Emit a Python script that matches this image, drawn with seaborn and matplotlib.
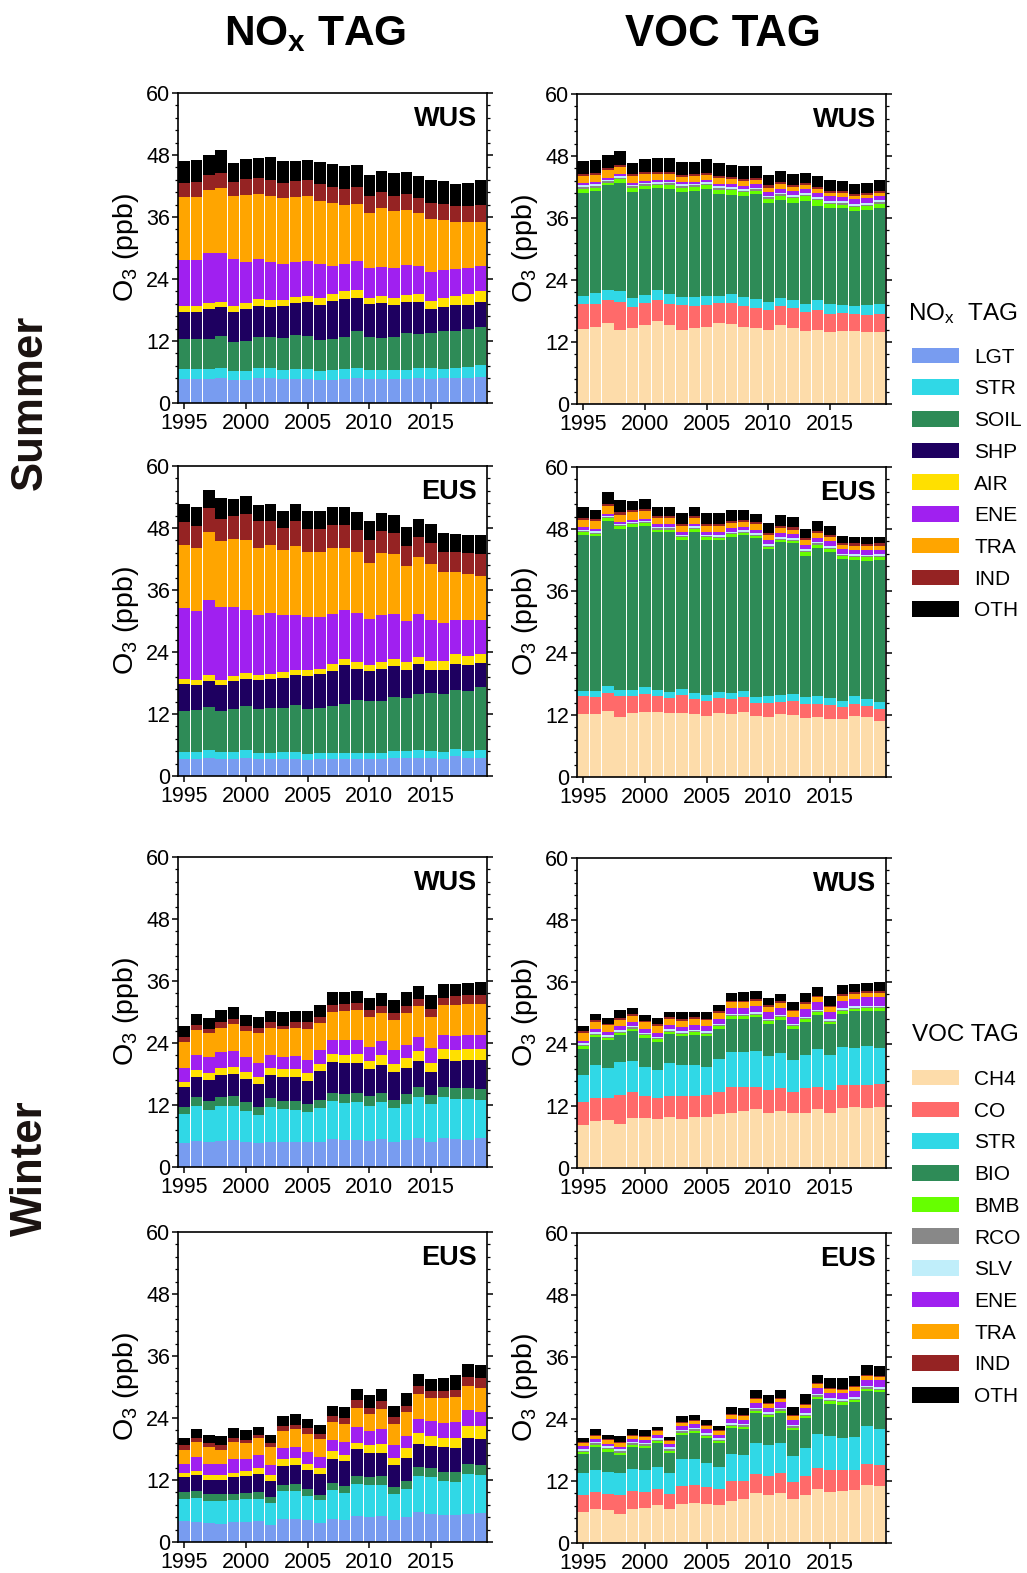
import numpy as np
import pandas as pd
import matplotlib
matplotlib.use('Agg')
import matplotlib.pyplot as plt
import seaborn as sns
from matplotlib.patches import Patch
from matplotlib.ticker import MultipleLocator

sns.set_style('ticks')
plt.rcParams['font.family'] = ['Liberation Sans', 'DejaVu Sans']
plt.rcParams['mathtext.default'] = 'regular'
for key in ['text.color', 'axes.labelcolor', 'xtick.color', 'ytick.color']:
    plt.rcParams[key] = 'black'

years = list(range(1995, 2020))

nox_tags = ['LGT', 'STR', 'SOIL', 'SHP', 'AIR', 'ENE', 'TRA', 'IND', 'OTH']
nox_colors = ['#789cf0', '#30d8e6', '#2e8b57', '#1e0060', '#ffe000',
              '#a020f0', '#ffa500', '#952323', '#000000']
voc_tags = ['CH4', 'CO', 'STR', 'BIO', 'BMB', 'RCO', 'SLV', 'ENE', 'TRA', 'IND', 'OTH']
voc_colors = ['#fddcaa', '#ff6a6a', '#30d8e6', '#2e8b57', '#66ff00', '#888888',
              '#c0eefa', '#a020f0', '#ffa500', '#952323', '#000000']

# stacked tops (ppb), bottom layer first, last row = total O3
summer_wus_nox = [
    [4.7, 4.7, 4.7, 4.8, 4.5, 4.5, 4.8, 4.8, 4.6, 4.6, 4.6, 4.5, 4.5, 4.6, 4.8, 4.7, 4.7, 4.6, 4.6, 4.8, 4.7, 4.9, 4.9, 4.9, 5.0],
    [6.6, 6.6, 6.6, 6.8, 6.1, 6.1, 6.8, 6.7, 6.4, 6.5, 6.5, 6.2, 6.3, 6.5, 6.7, 6.4, 6.4, 6.3, 6.4, 6.8, 6.7, 6.6, 6.7, 6.9, 7.3],
    [12.3, 12.4, 12.4, 13.0, 11.9, 12.0, 12.8, 12.7, 12.5, 13.1, 12.9, 12.1, 12.4, 12.7, 13.9, 12.8, 12.5, 12.8, 13.5, 13.4, 13.5, 13.9, 14.0, 14.3, 14.8],
    [17.7, 17.7, 18.1, 18.5, 17.7, 18.1, 18.8, 18.6, 18.8, 19.3, 19.5, 19.0, 19.8, 20.1, 20.4, 19.2, 19.3, 18.9, 19.5, 19.5, 18.1, 18.5, 18.9, 19.0, 19.5],
    [18.7, 18.7, 19.3, 19.6, 18.7, 19.3, 20.1, 19.9, 20.0, 20.6, 20.8, 20.4, 21.1, 21.6, 21.9, 20.4, 20.7, 20.3, 20.9, 21.1, 19.7, 20.3, 20.7, 21.1, 21.7],
    [27.7, 27.7, 29.1, 29.1, 27.8, 27.3, 27.8, 27.3, 27.0, 27.2, 27.5, 26.9, 26.6, 26.9, 27.5, 26.1, 26.3, 26.2, 26.7, 26.6, 25.3, 25.7, 25.9, 26.1, 26.5],
    [39.9, 39.9, 41.3, 41.7, 40.0, 40.3, 40.4, 40.1, 39.7, 39.9, 40.0, 39.1, 38.7, 38.3, 38.6, 36.8, 37.8, 37.2, 37.4, 36.8, 35.7, 35.4, 35.0, 35.0, 35.1],
    [42.6, 42.7, 44.1, 44.5, 42.7, 43.3, 43.6, 43.2, 42.6, 43.0, 43.2, 42.3, 41.9, 41.5, 41.8, 40.1, 40.8, 40.1, 40.4, 39.7, 38.7, 38.5, 38.1, 38.1, 38.3],
    [46.9, 47.1, 48.0, 48.9, 46.5, 47.3, 47.5, 47.6, 46.8, 46.8, 47.1, 46.6, 46.2, 45.9, 46.0, 44.1, 45.0, 44.5, 44.8, 44.0, 43.2, 43.0, 42.4, 42.6, 43.2],
]

summer_wus_voc = [
    [14.6, 14.9, 15.6, 14.4, 14.8, 15.3, 16.1, 15.2, 14.4, 14.8, 15.0, 15.6, 15.5, 14.9, 14.8, 14.4, 15.2, 14.7, 14.2, 14.4, 13.9, 14.2, 14.1, 14.0, 14.0],
    [19.3, 19.4, 20.2, 19.8, 18.8, 19.6, 20.2, 19.4, 19.2, 19.0, 19.1, 19.5, 19.5, 19.0, 18.6, 18.1, 18.9, 18.5, 17.8, 18.1, 17.5, 17.7, 17.4, 17.3, 17.4],
    [21.0, 21.4, 22.1, 21.8, 20.5, 21.1, 22.0, 21.2, 20.8, 20.8, 21.0, 21.0, 21.2, 20.8, 20.4, 19.8, 20.6, 20.1, 19.4, 20.1, 19.4, 19.2, 19.0, 19.2, 19.4],
    [40.9, 41.2, 42.3, 42.8, 41.0, 41.7, 41.9, 41.7, 41.0, 41.2, 41.7, 40.6, 40.5, 40.2, 40.6, 39.0, 39.5, 39.0, 39.3, 38.3, 37.9, 37.9, 37.4, 37.6, 38.0],
    [41.7, 41.9, 42.8, 43.5, 41.8, 42.2, 42.3, 42.4, 41.9, 42.0, 42.3, 41.5, 41.4, 41.0, 41.3, 39.7, 40.3, 39.8, 40.2, 39.4, 38.7, 38.6, 38.1, 38.3, 38.8],
    [42.0, 42.2, 43.1, 43.8, 42.1, 42.5, 42.6, 42.7, 42.2, 42.3, 42.6, 41.8, 41.7, 41.3, 41.6, 40.0, 40.6, 40.1, 40.5, 39.7, 39.0, 38.9, 38.4, 38.6, 39.1],
    [42.3, 42.5, 43.4, 44.1, 42.4, 42.8, 42.9, 43.0, 42.5, 42.6, 42.9, 42.1, 42.0, 41.6, 41.9, 40.3, 40.9, 40.4, 40.8, 40.0, 39.3, 39.2, 38.7, 38.9, 39.4],
    [42.7, 42.9, 43.8, 44.5, 42.8, 43.2, 43.3, 43.4, 42.9, 43.0, 43.3, 42.6, 42.5, 42.1, 42.5, 41.0, 41.7, 41.2, 41.6, 40.9, 40.2, 40.1, 39.6, 39.8, 40.3],
    [44.1, 44.3, 45.2, 45.8, 44.2, 44.5, 44.5, 44.6, 44.0, 44.1, 44.4, 43.7, 43.5, 43.1, 43.4, 41.9, 42.5, 42.0, 42.4, 41.6, 40.9, 40.8, 40.2, 40.4, 40.9],
    [44.5, 44.7, 45.6, 46.2, 44.6, 44.9, 44.9, 45.0, 44.4, 44.5, 44.8, 44.1, 43.9, 43.5, 43.8, 42.3, 42.9, 42.4, 42.8, 42.0, 41.3, 41.2, 40.6, 40.8, 41.3],
    [47.1, 47.3, 48.2, 49.0, 46.6, 47.5, 47.6, 47.7, 46.9, 46.9, 47.4, 46.6, 46.3, 46.0, 46.1, 44.3, 45.1, 44.6, 44.8, 44.1, 43.4, 43.1, 42.6, 42.8, 43.4],
]

summer_eus_nox = [
    [3.3, 3.3, 3.5, 3.2, 3.2, 3.5, 3.2, 3.3, 3.3, 3.3, 3.0, 3.2, 3.2, 3.2, 3.2, 3.3, 3.2, 3.5, 3.5, 3.5, 3.4, 3.3, 3.8, 3.5, 3.5],
    [4.6, 4.6, 5.0, 4.6, 4.6, 5.1, 4.5, 4.5, 4.7, 4.7, 4.2, 4.4, 4.5, 4.5, 4.4, 4.5, 4.5, 4.9, 4.9, 5.0, 4.9, 4.6, 5.3, 4.8, 5.0],
    [12.5, 12.7, 13.4, 12.5, 12.9, 13.5, 13.0, 13.1, 13.2, 13.8, 12.9, 13.1, 13.6, 14.0, 14.7, 14.5, 14.6, 15.3, 15.1, 15.9, 16.1, 15.8, 16.6, 16.4, 17.2],
    [17.8, 17.6, 18.4, 17.6, 18.3, 18.8, 18.5, 18.7, 19.0, 19.5, 19.4, 19.7, 20.4, 21.4, 20.8, 20.3, 20.8, 21.2, 20.6, 21.7, 20.6, 20.6, 21.7, 21.4, 21.9],
    [18.7, 18.6, 19.5, 18.6, 19.4, 20.0, 19.5, 19.7, 20.1, 20.6, 20.5, 20.8, 21.6, 22.6, 22.1, 21.4, 22.1, 22.6, 22.1, 23.0, 22.2, 22.2, 23.7, 23.2, 23.7],
    [32.5, 31.9, 34.1, 32.8, 32.8, 32.2, 31.2, 31.5, 31.2, 31.1, 30.7, 30.7, 31.3, 32.2, 31.6, 30.4, 31.1, 31.3, 30.0, 31.3, 30.2, 29.6, 30.2, 30.2, 30.2],
    [44.8, 44.2, 47.3, 45.5, 45.9, 45.7, 44.1, 44.8, 43.8, 44.6, 43.3, 43.3, 44.1, 44.2, 43.3, 41.2, 43.2, 43.0, 40.7, 42.3, 41.0, 39.4, 39.4, 39.0, 38.8],
    [49.1, 48.4, 51.8, 49.8, 50.4, 50.8, 49.3, 49.3, 48.0, 49.3, 47.8, 47.9, 48.6, 48.6, 47.7, 45.7, 47.4, 47.1, 44.6, 46.2, 45.0, 43.4, 43.3, 43.2, 43.0],
    [52.7, 52.0, 55.4, 53.8, 53.6, 54.1, 52.5, 52.7, 51.3, 52.7, 51.3, 51.3, 52.0, 52.0, 51.1, 49.4, 50.9, 50.6, 48.2, 49.7, 48.7, 47.0, 46.8, 46.6, 46.6],
]

summer_eus_voc = [
    [12.1, 12.1, 12.8, 11.7, 12.4, 12.6, 12.6, 12.3, 12.4, 12.1, 11.9, 12.3, 12.2, 12.5, 11.9, 11.7, 12.1, 12.0, 11.5, 11.6, 11.3, 11.2, 11.9, 11.6, 10.8],
    [15.6, 15.5, 16.2, 15.6, 15.6, 16.0, 15.6, 15.3, 15.8, 15.1, 14.8, 15.3, 15.1, 15.4, 14.4, 14.3, 14.6, 14.7, 14.2, 14.2, 13.9, 13.6, 14.2, 13.8, 13.1],
    [16.7, 16.7, 17.6, 16.8, 16.8, 17.4, 16.8, 16.5, 17.0, 16.3, 15.8, 16.5, 16.3, 16.6, 15.4, 15.6, 15.8, 16.0, 15.4, 15.6, 15.3, 14.8, 15.6, 15.1, 14.6],
    [46.9, 46.6, 49.6, 48.0, 48.4, 48.6, 47.4, 47.4, 45.9, 47.5, 45.9, 45.8, 46.5, 46.8, 46.2, 44.1, 45.4, 45.2, 42.8, 44.4, 43.6, 42.2, 42.0, 41.9, 42.0],
    [47.4, 47.1, 50.1, 48.5, 48.9, 49.1, 47.9, 47.9, 46.4, 48.0, 46.4, 46.3, 47.0, 47.3, 46.7, 44.6, 45.9, 45.7, 43.6, 45.0, 44.2, 42.7, 42.6, 42.5, 42.6],
    [47.6, 47.3, 50.3, 48.7, 49.1, 49.3, 48.1, 48.1, 46.6, 48.2, 46.6, 46.5, 47.2, 47.5, 46.9, 44.8, 46.1, 45.9, 43.8, 45.2, 44.4, 42.9, 42.8, 42.7, 42.8],
    [47.9, 47.6, 50.6, 49.0, 49.4, 49.6, 48.4, 48.4, 46.9, 48.5, 46.9, 46.8, 47.5, 47.8, 47.2, 45.1, 46.4, 46.2, 44.1, 45.5, 44.7, 43.2, 43.1, 43.0, 43.1],
    [48.3, 48.0, 51.0, 49.4, 49.8, 50.0, 48.9, 48.9, 47.4, 49.0, 47.5, 47.4, 48.1, 48.4, 47.9, 45.9, 47.2, 47.0, 44.9, 46.3, 45.6, 44.1, 44.0, 43.9, 44.0],
    [49.8, 49.5, 52.5, 50.8, 51.2, 51.4, 50.2, 50.2, 48.6, 50.2, 48.6, 48.5, 49.2, 49.4, 48.9, 46.9, 48.1, 47.9, 45.8, 47.2, 46.4, 44.9, 44.8, 44.7, 44.8],
    [50.2, 49.9, 52.9, 51.2, 51.6, 51.8, 50.6, 50.6, 49.0, 50.6, 49.0, 48.9, 49.6, 49.8, 49.3, 47.3, 48.5, 48.3, 46.2, 47.6, 46.8, 45.3, 45.2, 45.1, 45.2],
    [52.3, 51.7, 55.1, 53.6, 53.5, 53.9, 52.3, 52.3, 51.1, 52.3, 51.1, 51.1, 51.7, 51.7, 50.9, 49.1, 50.7, 50.4, 48.0, 49.6, 48.5, 46.7, 46.5, 46.5, 46.5],
]

winter_wus_nox = [
    [4.7, 5.1, 4.9, 5.1, 5.2, 4.9, 4.6, 4.9, 4.9, 4.9, 4.8, 4.9, 5.5, 5.3, 5.3, 5.0, 5.4, 4.9, 5.2, 5.6, 4.9, 5.6, 5.5, 5.2, 5.6],
    [10.3, 11.9, 11.1, 11.9, 11.9, 10.9, 10.1, 11.6, 11.3, 11.1, 10.6, 11.5, 12.7, 12.3, 12.5, 11.8, 12.6, 11.4, 12.2, 13.5, 12.1, 13.5, 13.2, 13.2, 13.0],
    [11.7, 13.5, 12.7, 13.6, 13.7, 12.6, 11.7, 13.3, 12.8, 12.8, 12.2, 13.0, 14.4, 14.1, 14.3, 13.7, 14.4, 13.0, 14.1, 15.5, 13.9, 15.5, 15.3, 15.3, 15.1],
    [15.4, 17.5, 16.9, 17.8, 18.0, 17.1, 16.0, 17.8, 17.5, 17.5, 16.7, 18.6, 20.4, 20.2, 20.2, 18.9, 19.8, 18.3, 19.2, 20.5, 18.3, 20.9, 20.5, 20.7, 20.7],
    [16.5, 18.7, 18.1, 19.2, 19.4, 18.4, 17.4, 19.2, 18.9, 19.0, 18.2, 19.9, 21.8, 21.6, 21.8, 20.5, 21.6, 20.0, 21.1, 22.4, 20.2, 22.8, 22.6, 22.9, 22.8],
    [19.1, 21.6, 21.2, 22.2, 22.5, 21.2, 20.2, 21.7, 21.3, 21.5, 20.7, 22.6, 24.5, 24.5, 24.6, 23.2, 24.3, 22.7, 23.7, 25.2, 23.0, 25.5, 25.4, 25.5, 25.5],
    [24.1, 26.5, 25.9, 27.0, 27.7, 26.4, 25.9, 27.0, 26.7, 27.0, 26.7, 27.9, 30.0, 30.1, 30.4, 29.0, 29.8, 28.5, 29.8, 31.1, 29.1, 31.3, 31.3, 31.5, 31.6],
    [25.2, 27.5, 26.7, 28.0, 28.7, 27.3, 26.9, 28.1, 27.3, 28.0, 28.0, 29.0, 31.3, 31.6, 31.8, 30.3, 31.1, 29.8, 31.1, 32.5, 30.5, 32.8, 33.1, 33.2, 33.2],
    [27.3, 29.7, 28.9, 30.4, 30.9, 29.5, 29.0, 30.1, 30.0, 30.1, 30.2, 31.4, 33.8, 33.9, 34.1, 32.8, 33.6, 32.3, 33.8, 35.0, 33.2, 35.4, 35.5, 35.7, 35.9],
]

winter_wus_voc = [
    [8.3, 9.1, 9.3, 8.5, 9.6, 9.6, 9.5, 9.8, 9.4, 9.8, 9.9, 10.4, 10.6, 11.1, 11.4, 10.7, 11.0, 10.6, 10.7, 11.5, 10.6, 11.6, 11.8, 11.7, 11.9],
    [12.7, 13.6, 13.6, 14.2, 14.7, 14.0, 13.6, 14.0, 13.9, 13.9, 14.1, 14.8, 15.7, 15.7, 15.7, 15.1, 15.5, 14.8, 15.4, 15.7, 15.1, 16.0, 16.1, 16.0, 16.2],
    [18.0, 19.9, 19.3, 20.5, 20.8, 19.6, 19.0, 20.3, 19.9, 19.9, 19.6, 21.1, 22.5, 22.5, 22.6, 21.6, 22.3, 21.0, 21.9, 23.1, 21.8, 23.4, 23.3, 23.7, 23.3],
    [23.1, 25.3, 24.7, 25.7, 26.5, 25.2, 24.4, 25.9, 25.5, 25.8, 25.5, 26.9, 28.9, 28.9, 29.2, 27.9, 28.7, 26.9, 28.3, 29.6, 27.8, 29.9, 30.3, 30.4, 30.4],
    [23.6, 25.8, 25.2, 26.2, 27.0, 25.7, 24.9, 26.4, 26.0, 26.3, 26.0, 27.4, 29.4, 29.4, 29.7, 28.4, 29.2, 27.4, 28.8, 30.1, 28.3, 30.4, 30.8, 30.9, 30.9],
    [23.8, 26.0, 25.4, 26.4, 27.2, 25.9, 25.1, 26.6, 26.2, 26.5, 26.2, 27.6, 29.6, 29.6, 29.9, 28.6, 29.4, 27.6, 29.0, 30.3, 28.5, 30.6, 31.0, 31.1, 31.1],
    [24.1, 26.3, 25.7, 26.7, 27.5, 26.2, 25.4, 26.9, 26.5, 26.8, 26.5, 27.9, 29.9, 29.9, 30.2, 28.9, 29.7, 27.9, 29.3, 30.6, 28.8, 30.9, 31.3, 31.4, 31.4],
    [24.6, 26.9, 26.3, 27.4, 28.2, 26.9, 26.2, 27.7, 27.3, 27.7, 27.4, 28.9, 31.0, 31.0, 31.4, 30.2, 31.0, 29.3, 30.8, 32.1, 30.2, 32.4, 32.8, 33.0, 33.0],
    [26.2, 28.3, 27.6, 28.7, 29.5, 28.2, 27.5, 28.9, 28.5, 28.9, 28.6, 30.0, 32.1, 32.1, 32.4, 31.2, 32.0, 30.3, 31.8, 33.0, 31.1, 33.3, 33.7, 33.9, 33.9],
    [26.5, 28.6, 27.9, 29.0, 29.8, 28.5, 27.8, 29.2, 28.8, 29.2, 28.9, 30.3, 32.4, 32.4, 32.7, 31.5, 32.3, 30.6, 32.1, 33.3, 31.4, 33.6, 34.0, 34.2, 34.2],
    [27.4, 29.8, 29.0, 30.5, 31.0, 29.7, 29.1, 30.2, 30.1, 30.2, 30.2, 31.5, 33.8, 34.0, 34.2, 32.9, 33.7, 32.1, 33.8, 35.1, 33.3, 35.4, 35.6, 35.8, 36.0],
]

winter_eus_nox = [
    [4.0, 3.9, 3.7, 3.5, 3.9, 3.8, 4.1, 3.3, 4.4, 4.4, 4.2, 3.7, 4.4, 4.3, 5.1, 4.8, 5.1, 4.2, 4.8, 5.9, 5.5, 5.3, 5.3, 5.5, 5.7],
    [8.4, 8.6, 8.0, 8.0, 8.2, 8.3, 8.4, 7.6, 9.8, 9.8, 9.0, 8.1, 10.0, 9.5, 11.3, 11.0, 11.1, 9.3, 10.2, 12.7, 12.5, 11.8, 11.7, 13.2, 13.0],
    [9.6, 9.8, 9.2, 9.2, 9.3, 9.5, 9.7, 8.7, 11.1, 11.2, 10.2, 9.1, 11.4, 10.9, 12.8, 12.6, 12.7, 10.6, 11.8, 14.5, 14.3, 13.5, 13.5, 15.1, 15.0],
    [12.5, 12.9, 12.0, 12.0, 12.5, 12.7, 13.2, 11.9, 14.8, 15.0, 14.0, 13.1, 16.0, 15.6, 18.0, 17.3, 17.3, 14.9, 16.2, 18.9, 18.6, 18.3, 18.2, 20.2, 20.0],
    [13.3, 13.7, 12.9, 12.9, 13.4, 13.7, 14.4, 12.9, 16.0, 16.2, 15.1, 14.4, 17.6, 16.9, 19.2, 18.8, 19.0, 16.3, 18.1, 21.1, 20.6, 20.2, 20.1, 22.5, 22.5],
    [15.1, 16.4, 15.1, 15.1, 16.0, 16.0, 16.8, 14.9, 18.2, 18.4, 17.4, 16.4, 19.8, 19.3, 22.2, 21.4, 21.8, 18.7, 20.6, 23.8, 23.5, 23.0, 23.3, 25.5, 25.2],
    [17.8, 19.4, 18.3, 17.9, 19.4, 19.1, 20.2, 18.3, 21.5, 21.8, 20.9, 20.0, 23.3, 22.9, 25.9, 24.8, 25.8, 22.9, 25.2, 28.7, 27.9, 27.8, 28.0, 30.2, 29.9],
    [18.7, 20.2, 19.1, 18.7, 20.2, 19.8, 20.8, 19.1, 22.5, 22.6, 22.0, 20.9, 24.3, 24.0, 27.5, 26.0, 27.3, 24.1, 26.4, 30.1, 29.3, 29.2, 29.4, 31.9, 31.7],
    [20.2, 21.9, 20.7, 20.5, 22.0, 21.6, 22.3, 20.7, 24.4, 24.7, 23.8, 22.7, 26.3, 26.2, 29.6, 28.5, 29.6, 26.3, 28.8, 32.5, 31.6, 31.7, 32.3, 34.4, 34.2],
]

winter_eus_voc = [
    [6.0, 6.6, 6.4, 5.6, 6.6, 6.8, 7.4, 6.6, 7.6, 7.8, 7.6, 7.3, 8.2, 8.5, 9.6, 9.3, 9.6, 8.5, 9.2, 10.5, 9.9, 10.1, 10.3, 11.2, 11.0],
    [9.2, 9.9, 9.5, 9.3, 10.1, 9.8, 10.5, 9.5, 11.1, 11.2, 10.9, 10.5, 12.0, 12.0, 13.4, 12.9, 13.6, 11.9, 13.0, 14.6, 14.1, 14.1, 14.2, 15.3, 15.1],
    [13.5, 14.2, 13.7, 13.5, 14.3, 14.1, 14.7, 13.6, 16.2, 16.3, 15.5, 14.8, 17.3, 17.0, 19.3, 18.9, 19.3, 16.8, 18.4, 21.1, 20.7, 20.3, 20.5, 22.6, 22.1],
    [17.2, 18.6, 17.7, 17.1, 18.6, 18.4, 19.3, 17.5, 20.9, 21.3, 20.3, 19.3, 22.2, 22.1, 25.2, 24.3, 25.2, 21.9, 24.1, 27.9, 27.0, 26.8, 27.2, 29.4, 29.2],
    [17.6, 19.0, 18.1, 17.5, 19.0, 18.8, 19.7, 17.9, 21.3, 21.7, 20.7, 19.7, 22.6, 22.5, 25.6, 24.7, 25.6, 22.3, 24.5, 28.3, 27.4, 27.2, 27.6, 29.8, 29.6],
    [17.9, 19.3, 18.4, 17.8, 19.3, 19.1, 20.0, 18.2, 21.6, 22.0, 21.0, 20.0, 22.9, 22.8, 25.9, 25.0, 25.9, 22.6, 24.8, 28.6, 27.7, 27.5, 27.9, 30.1, 29.9],
    [18.2, 19.6, 18.7, 18.1, 19.6, 19.4, 20.3, 18.5, 21.9, 22.3, 21.3, 20.3, 23.2, 23.1, 26.2, 25.3, 26.2, 22.9, 25.1, 28.9, 28.0, 27.8, 28.2, 30.4, 30.2],
    [18.7, 20.1, 19.2, 18.6, 20.1, 19.9, 20.9, 19.1, 22.6, 23.0, 22.0, 21.0, 24.0, 23.9, 27.1, 26.2, 27.2, 23.9, 26.1, 30.0, 29.1, 29.0, 29.4, 31.6, 31.5],
    [19.4, 20.8, 19.9, 19.3, 20.8, 20.6, 21.6, 19.8, 23.3, 23.7, 22.7, 21.7, 24.7, 24.6, 27.8, 26.9, 27.9, 24.6, 26.8, 30.7, 29.8, 29.7, 30.1, 32.3, 32.2],
    [19.6, 21.0, 20.1, 19.5, 21.0, 20.8, 21.8, 20.0, 23.5, 23.9, 22.9, 21.9, 24.9, 24.8, 28.0, 27.1, 28.1, 24.8, 27.0, 30.9, 30.0, 29.9, 30.3, 32.5, 32.4],
    [20.3, 22.0, 20.9, 20.7, 22.1, 21.8, 22.4, 20.5, 24.5, 24.8, 23.9, 22.7, 26.3, 26.2, 29.7, 28.6, 29.7, 26.3, 28.9, 32.6, 31.9, 31.9, 32.3, 34.5, 34.3],
]

panels = [
    (summer_wus_nox, nox_tags, nox_colors, 'WUS'),
    (summer_wus_voc, voc_tags, voc_colors, 'WUS'),
    (summer_eus_nox, nox_tags, nox_colors, 'EUS'),
    (summer_eus_voc, voc_tags, voc_colors, 'EUS'),
    (winter_wus_nox, nox_tags, nox_colors, 'WUS'),
    (winter_wus_voc, voc_tags, voc_colors, 'WUS'),
    (winter_eus_nox, nox_tags, nox_colors, 'EUS'),
    (winter_eus_voc, voc_tags, voc_colors, 'EUS'),
]

W, H = 1027, 1573
fig = plt.figure(figsize=(W / 100, H / 100), dpi=100)

# panel boxes in pixels: (left, top)
lefts = [178, 577]
tops_px = [93, 466, 857, 1232]
pw, ph = 309, 310

for i, (tops, tags, colors, region) in enumerate(panels):
    r, c = divmod(i, 2)
    x0, y0 = lefts[c], tops_px[r] + c * 1
    ax = fig.add_axes([x0 / W, 1 - (y0 + ph) / H, pw / W, ph / H])

    # stacked tops -> layer contributions
    tops = np.array(tops)
    layers = np.diff(np.vstack([np.zeros(len(years)), tops]), axis=0)
    df = pd.DataFrame({
        'year': np.tile(years, len(tags)),
        'tag': np.repeat(tags, len(years)),
        'o3': layers.ravel(),
    })
    # seaborn stacks the first hue level on top, so feed the order reversed
    sns.histplot(data=df, x='year', weights='o3', hue='tag', hue_order=tags[::-1],
                 multiple='stack', discrete=True, shrink=0.92,
                 palette=dict(zip(tags, colors)), alpha=1, linewidth=0,
                 legend=False, ax=ax)

    ax.set_xlim(1994.5, 2019.55)
    ax.set_ylim(0, 60)
    ax.set_xticks([1995, 2000, 2005, 2010, 2015])
    ax.yaxis.set_major_locator(MultipleLocator(12))
    ax.yaxis.set_minor_locator(MultipleLocator(2.4))
    ax.tick_params(axis='both', which='major', labelsize=15.5, length=4.5,
                   width=1.1, direction='out', pad=1)
    ax.tick_params(axis='x', which='major', pad=3)
    ax.tick_params(axis='y', which='both', right=True)
    ax.tick_params(axis='y', which='minor', length=2.3, width=0.9)
    ax.set_xlabel('')
    ax.set_ylabel('O$_3$ (ppb)', fontsize=20.5, labelpad=4)
    for s in ax.spines.values():
        s.set_linewidth(1.2)
        s.set_color('black')
    ax.text(0.968, 0.915, region, transform=ax.transAxes, ha='right',
            va='center', fontsize=19.5, fontweight='bold')

# column headers and season labels
fig.text(315 / W, 1 - 34 / H, 'NO$_x$ TAG', ha='center', va='center',
         fontsize=30.5, fontweight='bold')
fig.text(723 / W, 1 - 34 / H, 'VOC TAG', ha='center', va='center',
         fontsize=31.5, fontweight='bold')
fig.text(30 / W, 1 - 402 / H, 'Summer', ha='center', va='center',
         rotation=90, fontsize=31.5, fontweight='bold', color='#1a1210')
fig.text(30 / W, 1 - 1168 / H, 'Winter', ha='center', va='center',
         rotation=90, fontsize=31.5, fontweight='bold', color='#1a1210')

# legends (titles drawn as separate texts)
legend_kw = dict(frameon=False, loc='center left', fontsize=15,
                 handlelength=2.25, handleheight=0.77, handletextpad=0.72,
                 labelspacing=0.61, borderaxespad=0, borderpad=0.4)
nox_handles = [Patch(facecolor=col, edgecolor='none') for col in nox_colors]
voc_handles = [Patch(facecolor=col, edgecolor='none') for col in voc_colors]
fig.legend(nox_handles, nox_tags, bbox_to_anchor=(904 / W, 1 - 484 / H), **legend_kw)
fig.legend(voc_handles, voc_tags, bbox_to_anchor=(904 / W, 1 - 1238 / H), **legend_kw)
fig.text(963 / W, 1 - 314 / H, 'NO$_x$  TAG', ha='center', va='center', fontsize=17.5)
fig.text(965 / W, 1 - 1035 / H, 'VOC TAG', ha='center', va='center', fontsize=17.5)

fig.savefig('out.png', dpi=100)
